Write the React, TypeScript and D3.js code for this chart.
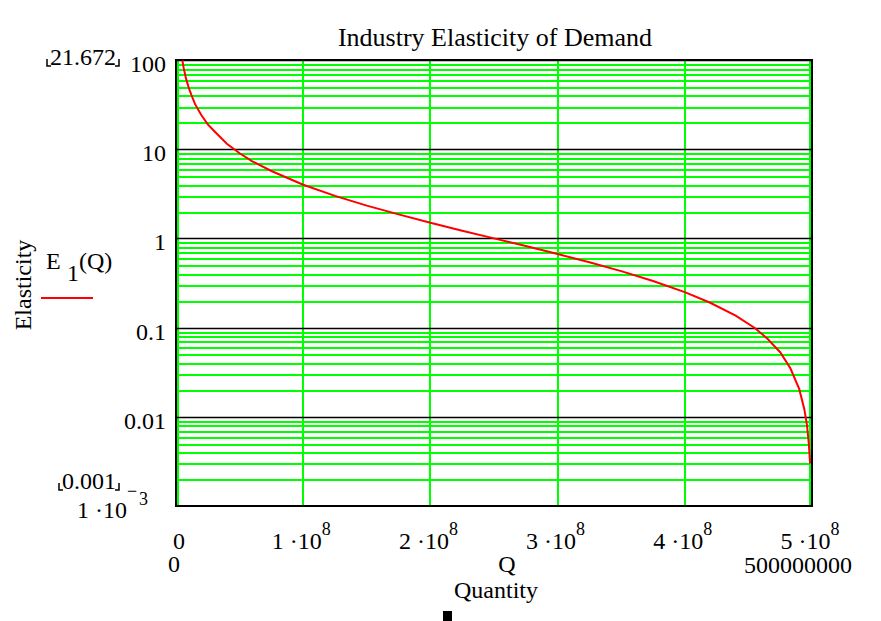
import React, { useEffect, useRef } from 'react';
import { select, scaleLinear, scaleLog, line, curveLinear } from 'd3';

// quantity (units)
const quantity = [
  5e6, 6e6, 8e6, 10e6, 12e6, 15e6, 20e6, 25e6, 30e6, 40e6, 50e6, 60e6, 75e6,
  100e6, 125e6, 150e6, 175e6, 200e6, 225e6, 250e6, 275e6, 300e6, 325e6, 350e6,
  375e6, 400e6, 420e6, 440e6, 455e6, 465e6, 475e6, 483e6, 490e6, 494e6, 496e6,
  497.5e6, 498.5e6,
];
// elasticity E1(Q) at those quantities
const elasticity = [
  99, 82, 61, 49, 41, 32, 24, 19, 16, 11.5, 9, 7.3, 5.7,
  4, 3, 2.33, 1.86, 1.5, 1.22, 1.0, 0.82, 0.667, 0.54, 0.43,
  0.333, 0.25, 0.19, 0.136, 0.099, 0.075, 0.053, 0.035, 0.0204, 0.0121, 0.0081,
  0.005, 0.003,
];

const xTicks = [0, 1e8, 2e8, 3e8, 4e8, 5e8];
const yMajor = [100, 10, 1, 0.1, 0.01];
const yMajorLabels = ['100', '10', '1', '0.1', '0.01'];

const FONT = '"Liberation Serif", "Times New Roman", serif';
const FS = 24;

export default function App() {
  const ref = useRef<SVGSVGElement>(null);

  useEffect(() => {
    const svg = select(ref.current);
    svg.selectAll('*').remove();

    const left = 176, right = 812, top = 60, bottom = 506;
    const x = scaleLinear().domain([0, 5e8]).range([left, right]);
    const y = scaleLog().domain([0.001, 100]).range([bottom, top]);

    /* minor grid */
    const minor = y.ticks().filter((t) => {
      const l = Math.log10(t);
      return Math.abs(l - Math.round(l)) > 1e-6;
    });
    svg.append('g')
      .selectAll('line')
      .data(minor)
      .enter()
      .append('line')
      .attr('x1', left + 1).attr('x2', right - 1)
      .attr('y1', (d) => Math.round(y(d)) + 0.5)
      .attr('y2', (d) => Math.round(y(d)) + 0.5)
      .style('stroke', '#00ff00')
      .style('stroke-width', 2)
      .style('shape-rendering', 'crispEdges');

    /* vertical grid */
    svg.append('g')
      .selectAll('line')
      .data(xTicks)
      .enter()
      .append('line')
      .attr('x1', (d, i) => Math.round(x(d)) + (i === 0 ? 2 : i === xTicks.length - 1 ? -2 : 0))
      .attr('x2', (d, i) => Math.round(x(d)) + (i === 0 ? 2 : i === xTicks.length - 1 ? -2 : 0))
      .attr('y1', top).attr('y2', bottom)
      .style('stroke', '#00ff00')
      .style('stroke-width', 2)
      .style('shape-rendering', 'crispEdges');

    /* major grid */
    svg.append('g')
      .selectAll('line')
      .data(yMajor)
      .enter()
      .append('line')
      .attr('x1', left).attr('x2', right)
      .attr('y1', (d) => Math.round(y(d)) + 0.5)
      .attr('y2', (d) => Math.round(y(d)) + 0.5)
      .style('stroke', '#000')
      .style('stroke-width', 1.5);

    /* border */
    svg.append('rect')
      .attr('x', left).attr('y', top)
      .attr('width', right - left).attr('height', bottom - top)
      .style('fill', 'none')
      .style('stroke', '#000')
      .style('stroke-width', 2);

    /* curve */
    const pts = quantity.map((q, i) => [q, elasticity[i]] as [number, number]);
    const path = line<[number, number]>()
      .x((d) => x(d[0]))
      .y((d) => y(d[1]))
      .curve(curveLinear);
    svg.append('path')
      .datum(pts)
      .attr('d', path)
      .style('fill', 'none')
      .style('stroke', '#ff0000')
      .style('stroke-width', 2);

    const txt = (s: string, tx: number, ty: number, size: number, anchor = 'start') =>
      svg.append('text')
        .attr('x', tx).attr('y', ty)
        .attr('text-anchor', anchor)
        .style('font-family', FONT)
        .style('font-size', size + 'px')
        .style('fill', '#000')
        .text(s);

    /* title */
    txt('Industry Elasticity of Demand', 495, 46, 26, 'middle');

    /* y tick labels */
    yMajor.forEach((v, i) => txt(yMajorLabels[i], 166, y(v) + 12, FS, 'end'));
    txt('1 \u00b710', 127, 518, FS, 'end');
    txt('\u2212', 127, 497, 18);
    txt('3', 139, 505, 18);

    // range limit markers
    const bracketed = (s: string, cx: number, by: number) => {
      const t = txt(s, cx, by, FS, 'middle');
      const w = (t.node() as SVGTextElement).getComputedTextLength();
      const l = cx - w / 2 - 3, r = cx + w / 2 + 3;
      svg.append('path')
        .attr('d', `M${l},${by - 6}V${by + 1}H${l + 4}M${r},${by - 6}V${by + 1}H${r - 4}`)
        .style('fill', 'none')
        .style('stroke', '#000')
        .style('stroke-width', 1.5);
    };
    bracketed('21.672', 83, 65);
    bracketed('0.001', 89, 489);

    /* x tick labels */
    xTicks.forEach((v, i) => {
      if (i === 0) {
        txt('0', x(v) + 3, 549, FS, 'middle');
        return;
      }
      const t = svg.append('text')
        .attr('x', x(v) - 2).attr('y', 549)
        .attr('text-anchor', 'middle')
        .style('font-family', FONT)
        .style('font-size', FS + 'px');
      t.append('tspan').text(`${i} \u00b710`);
      t.append('tspan').attr('dy', -14).style('font-size', '18px').text('8');
    });
    txt('0', 174, 572, FS, 'middle');
    txt('500000000', 798, 573, FS, 'middle');

    /* axis titles */
    txt('Q', 507, 572, FS, 'middle');
    txt('Quantity', 496, 598, FS, 'middle');
    svg.append('text')
      .attr('transform', 'translate(31,285) rotate(-90)')
      .attr('text-anchor', 'middle')
      .style('font-family', FONT)
      .style('font-size', FS + 'px')
      .text('Elasticity');

    /* legend */
    txt('E', 46, 269, FS);
    txt('1', 67, 281, FS);
    txt('(Q)', 79, 269, FS);
    svg.append('line')
      .attr('x1', 41).attr('x2', 93)
      .attr('y1', 298).attr('y2', 298)
      .style('stroke', '#ff0000')
      .style('stroke-width', 2);

    svg.append('rect')
      .attr('x', 443).attr('y', 611)
      .attr('width', 9).attr('height', 10)
      .style('fill', '#000');
  }, []);

  return (
    <svg
      ref={ref}
      width={881}
      height={621}
      style={{ position: 'absolute', left: 0, top: 0, background: '#fff' }}
    />
  );
}
